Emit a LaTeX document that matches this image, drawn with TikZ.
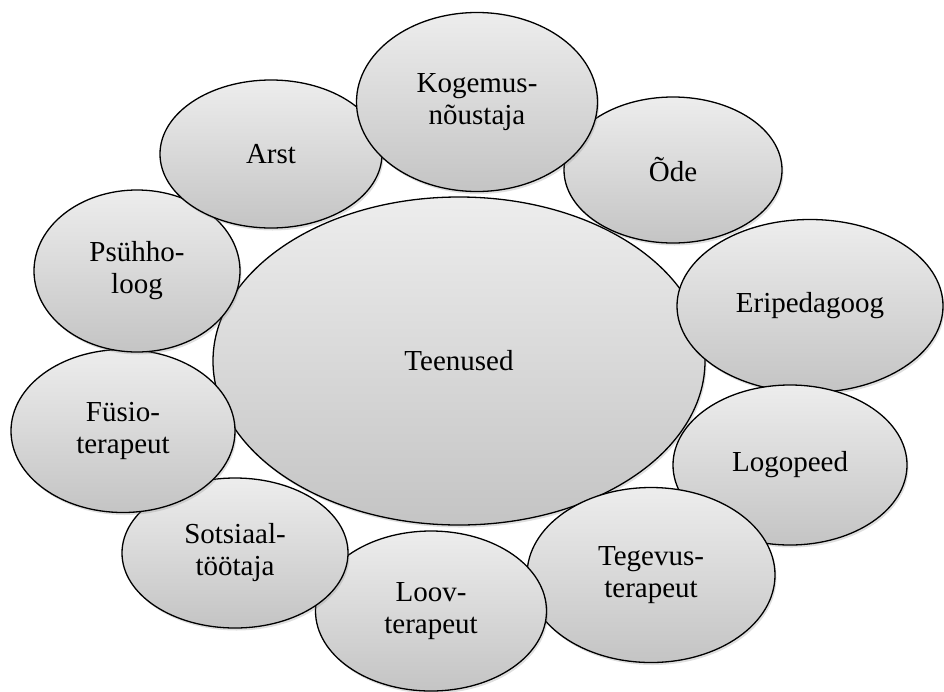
\documentclass[tikz,border=0pt]{standalone}
\usepackage{fontspec}
\setmainfont{Liberation Serif}
\usetikzlibrary{shapes.geometric,shadows}
\definecolor{bubtop}{HTML}{EDEDED}
\definecolor{bubbot}{HTML}{C4C4C4}
\tikzset{bubble/.style={ellipse, draw, line width=1.3pt, top color=bubtop, bottom color=bubbot,
  inner sep=0pt, align=center, font=\fontsize{29}{32}\selectfont,
  drop shadow={opacity=0.25, shadow xshift=1.5pt, shadow yshift=-2.5pt}}}
\begin{document}
\begin{tikzpicture}[x=1pt, y=-1pt]
\useasboundingbox (0,0) rectangle (944,691);
\node[bubble, minimum width=492, minimum height=328] (teenused) at (459,361) {Teenused};
\node[bubble, minimum width=218, minimum height=146] (ode)      at (673,170) {Õde};
\node[bubble, minimum width=266, minimum height=173] (eriped)   at (810,306) {Eripedagoog};
\node[bubble, minimum width=234, minimum height=160] (logo)     at (790,465) {Logopeed};
\node[bubble, minimum width=248, minimum height=175] (tegevus)  at (651,575) {Tegevus-\\terapeut};
\node[bubble, minimum width=231, minimum height=160] (loov)     at (431,611) {Loov-\\terapeut};
\node[bubble, minimum width=226, minimum height=150] (sotsiaal) at (235,553) {Sotsiaal-\\töötaja};
\node[bubble, minimum width=224, minimum height=163] (fusio)    at (123,431) {Füsio-\\terapeut};
\node[bubble, minimum width=206, minimum height=162] (psuhh)    at (137,271) {Psühho-\\loog};
\node[bubble, minimum width=222, minimum height=148] (arst)     at (271,154) {Arst};
\node[bubble, minimum width=241, minimum height=179] (kogemus)  at (477,102) {Kogemus-\\nõustaja};
\end{tikzpicture}
\end{document}
